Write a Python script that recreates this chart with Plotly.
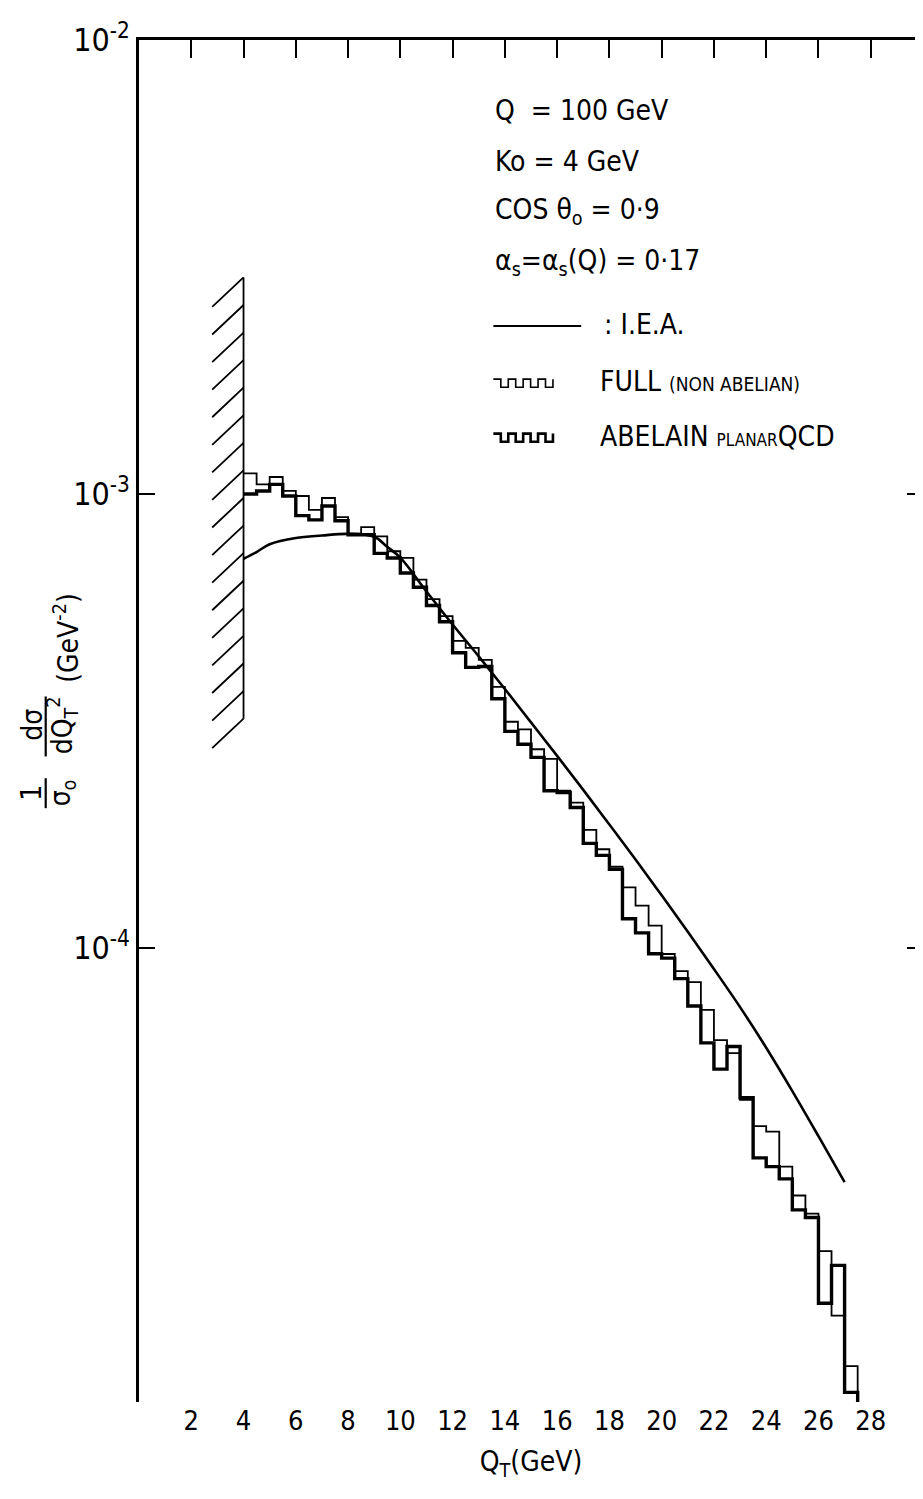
import plotly.graph_objects as go

# bins of 0.5 GeV from 4 to 27.5 GeV
bin_lo = [4.0 + 0.5 * i for i in range(47)]

full_na = [1.11e-3, 1.05e-3, 1.09e-3, 1.016e-3, 9.9e-4, 9.23e-4, 9.8e-4, 8.89e-4,
           8.18e-4, 8.45e-4, 8.07e-4, 7.48e-4, 7.23e-4, 6.48e-4, 5.87e-4, 5.38e-4,
           4.75e-4, 4.58e-4, 4.31e-4, 3.76e-4, 3.15e-4, 3.03e-4, 2.74e-4, 2.61e-4,
           2.22e-4, 2.09e-4, 1.82e-4, 1.65e-4, 1.51e-4, 1.36e-4, 1.24e-4, 1.12e-4,
           9.7e-5, 8.89e-5, 8.41e-5, 7.31e-5, 6.27e-5, 5.87e-5, 4.63e-5, 4.05e-5,
           3.94e-5, 3.30e-5, 2.85e-5, 2.60e-5, 2.15e-5, 1.55e-5, 1.20e-5]

abelian = [1.00e-3, 1.015e-3, 1.05e-3, 9.9e-4, 8.96e-4, 8.77e-4, 9.41e-4, 8.73e-4,
           8.13e-4, 8.13e-4, 7.4e-4, 7.23e-4, 6.70e-4, 6.23e-4, 5.68e-4, 5.23e-4,
           4.47e-4, 4.15e-4, 4.17e-4, 3.54e-4, 3.00e-4, 2.81e-4, 2.63e-4, 2.22e-4,
           2.20e-4, 2.04e-4, 1.70e-4, 1.60e-4, 1.49e-4, 1.16e-4, 1.08e-4, 9.71e-5,
           9.5e-5, 8.56e-5, 7.45e-5, 6.18e-5, 5.41e-5, 6.07e-5, 4.68e-5, 3.45e-5,
           3.30e-5, 3.10e-5, 2.65e-5, 2.55e-5, 1.65e-5, 2.00e-5, 1.05e-5]

# I.E.A. curve
iea_qt = [4.0, 4.5, 5.0, 6.0, 7.0, 8.0, 9.0, 9.5, 10.0, 11.0, 12.0, 13.0, 14.0,
          15.0, 16.0, 17.0, 18.0, 19.0, 20.0, 21.0, 22.0, 23.0, 24.0, 25.0, 26.0, 27.0]
iea_val = [7.2e-4, 7.45e-4, 7.75e-4, 8.0e-4, 8.1e-4, 8.17e-4, 8.05e-4, 7.65e-4,
           7.24e-4, 6.10e-4, 5.16e-4, 4.39e-4, 3.72e-4, 3.14e-4, 2.65e-4, 2.23e-4,
           1.87e-4, 1.567e-4, 1.306e-4, 1.086e-4, 8.99e-5, 7.41e-5, 6.03e-5,
           4.84e-5, 3.85e-5, 3.05e-5]

x_ticks = [2, 4, 6, 8, 10, 12, 14, 16, 18, 20, 22, 24, 26, 28]
y_ticks = [1e-2, 1e-3, 1e-4]
y_ticktext = ['10<sup>-2</sup>', '10<sup>-3</sup>', '10<sup>-4</sup>']

FONT = 'DejaVu Sans Condensed, Liberation Sans Narrow, sans-serif'
BIN_W = 0.5
FLOOR = 1e-7

# hatched cut at Ko = 4 GeV
cut_x = 4.0
hatch_top, hatch_bot, n_hatch = 3.0e-3, 3.2e-4, 17
hatch_dx, hatch_dy = 1.2, 10 ** -0.065


def step_xy(vals):
    xs = bin_lo + [bin_lo[-1] + BIN_W, bin_lo[-1] + BIN_W]
    ys = vals + [vals[-1], FLOOR]
    return xs, ys


fig = go.Figure()

# hatch
hx, hy = [cut_x, cut_x, None], [hatch_bot, hatch_top, None]
ratio = (hatch_bot / hatch_top) ** (1.0 / (n_hatch - 1))
for k in range(n_hatch):
    yk = hatch_top * ratio ** k
    hx += [cut_x - hatch_dx, cut_x, None]
    hy += [yk * hatch_dy, yk, None]
fig.add_trace(go.Scatter(x=hx, y=hy, xaxis='x2', mode='lines',
                         line=dict(color='black', width=1.8), showlegend=False))

fig.add_trace(go.Scatter(x=iea_qt, y=iea_val, mode='lines', line_shape='spline',
                         line=dict(color='black', width=2.6), showlegend=False))

xs, ys = step_xy(full_na)
fig.add_trace(go.Scatter(x=xs, y=ys, mode='lines', line_shape='hv',
                         line=dict(color='black', width=1.8), showlegend=False))
xs, ys = step_xy(abelian)
fig.add_trace(go.Scatter(x=xs, y=ys, mode='lines', line_shape='hv',
                         line=dict(color='black', width=3.4), showlegend=False))

# parameter text and legend
x0 = 0.452
params = ['Q  = 100 GeV', 'Ko = 4 GeV', 'COS θ<sub>o</sub> = 0·9',
          'α<sub>s</sub>=α<sub>s</sub>(Q) = 0·17']
for i, txt in enumerate(params):
    fig.add_annotation(x=x0, y=0.948 - 0.037 * i, xref='paper', yref='paper',
                       text=txt, showarrow=False, xanchor='left', yanchor='middle',
                       font=dict(size=28, family=FONT, color='black'))

fig.add_shape(type='line', xref='paper', yref='paper', x0=x0, x1=0.564,
              y0=0.790, y1=0.790, line=dict(color='black', width=2.2))
fig.add_annotation(x=0.590, y=0.791, xref='paper', yref='paper', text=': I.E.A.',
                   showarrow=False, xanchor='left', yanchor='middle',
                   font=dict(size=28, family=FONT, color='black'))


def wave_path(xa, ya, w=0.076, h=0.006, n=4):
    step = w / (2 * n)
    p = 'M %f %f' % (xa, ya + h)
    x = xa
    for j in range(n):
        p += ' L %f %f L %f %f L %f %f L %f %f' % (x + step, ya + h, x + step, ya,
                                                   x + 2 * step, ya, x + 2 * step, ya + h)
        x += 2 * step
    return p


for yy, lw, txt in [(0.749, 1.6, 'FULL <span style="font-size:19px">(NON ABELIAN)</span>'),
                    (0.709, 2.6, 'ABELAIN <span style="font-size:17px">PLANAR</span>QCD')]:
    fig.add_shape(type='path', xref='paper', yref='paper', path=wave_path(x0, yy - 0.004),
                  line=dict(color='black', width=lw))
    fig.add_annotation(x=0.585, y=yy, xref='paper', yref='paper', text=txt,
                       showarrow=False, xanchor='left', yanchor='middle',
                       font=dict(size=28, family=FONT, color='black'))

# y axis title, written as stacked fractions (rotated)
ylab = [(-0.137, 0.447, '1'), (-0.098, 0.447, 'σ<sub>o</sub>'),
        (-0.137, 0.497, 'dσ'), (-0.098, 0.497, 'dQ<sub>T</sub><sup>2</sup>'),
        (-0.092, 0.561, '(GeV<sup>-2</sup>)')]
for xx, yy, txt in ylab:
    fig.add_annotation(x=xx, y=yy, xref='paper', yref='paper', textangle=-90,
                       text=txt, showarrow=False, xanchor='center', yanchor='middle',
                       font=dict(size=28, family=FONT, color='black'))
for ya, yb in [(0.436, 0.458), (0.474, 0.518)]:
    fig.add_shape(type='line', xref='paper', yref='paper', x0=-0.119, x1=-0.119,
                  y0=ya, y1=yb, line=dict(color='black', width=2.2))

fig.update_layout(
    width=923, height=1499,
    margin=dict(l=131, r=5, t=32, b=105),
    paper_bgcolor='white', plot_bgcolor='white',
    font=dict(family=FONT, color='black', size=28),
    xaxis=dict(range=[0, 30], tickvals=x_ticks, ticks='', showline=False,
               showgrid=False, zeroline=False, tickfont=dict(size=27, family=FONT),
               title=dict(text='Q<sub>T</sub>(GeV)', font=dict(size=28, family=FONT),
                          standoff=16)),
    xaxis2=dict(range=[0, 30], overlaying='x', side='top', tickvals=x_ticks,
                ticks='inside', ticklen=18, tickwidth=2, tickcolor='black',
                showticklabels=False, showline=True, linewidth=2.5, linecolor='black',
                showgrid=False, zeroline=False),
    yaxis=dict(type='log', range=[-5, -2], tickvals=y_ticks, ticktext=y_ticktext,
               ticks='inside', ticklen=16, tickwidth=2, tickcolor='black',
               showline=True, linewidth=2.5, linecolor='black', mirror='ticks',
               showgrid=False, zeroline=False, tickfont=dict(size=32, family=FONT)),
)

fig.write_html('out.html')
